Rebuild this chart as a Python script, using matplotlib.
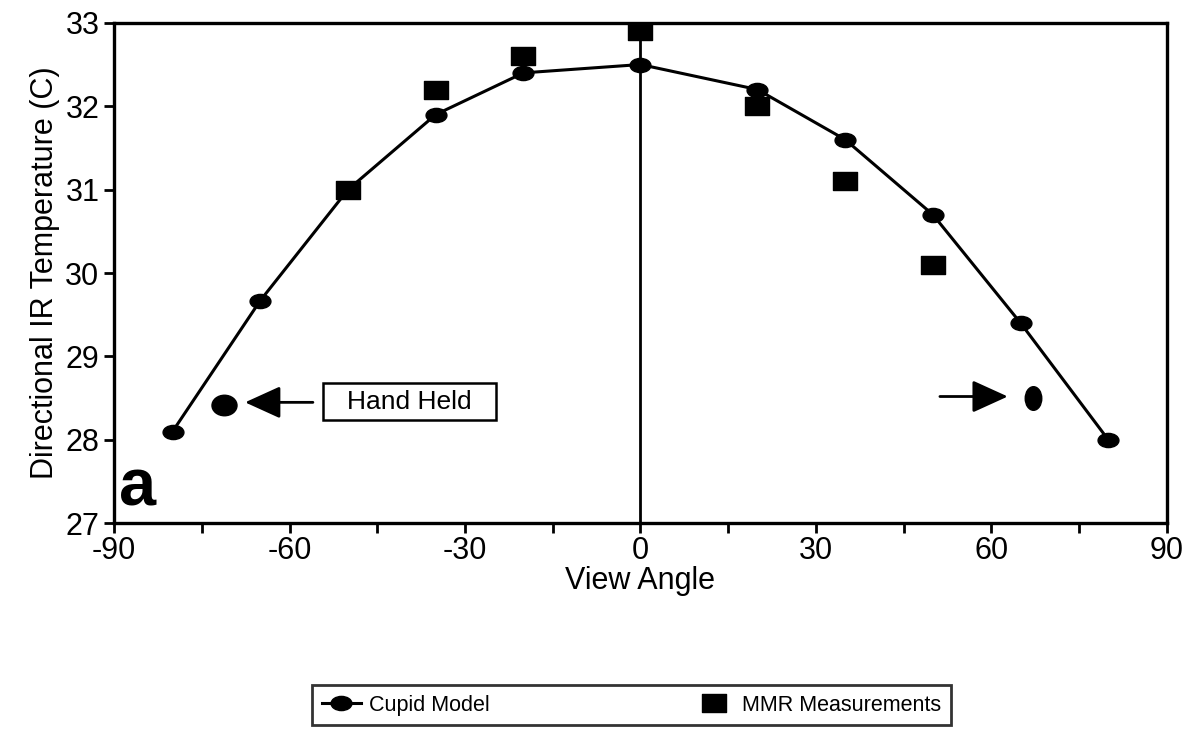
import matplotlib.pyplot as plt
import numpy as np
from matplotlib.path import Path
from matplotlib.patches import Rectangle
from matplotlib.transforms import Affine2D

plt.rcParams['font.family'] = ['Liberation Sans', 'DejaVu Sans']
plt.rcParams['axes.unicode_minus'] = False

# data
angle_model = [-80, -65, -50, -35, -20, 0, 20, 35, 50, 65, 80]
temp_model = [28.1, 29.67, 31.0, 31.9, 32.4, 32.5, 32.2, 31.6, 30.7, 29.4, 28.0]
angle_mmr = [-50, -35, -20, 0, 20, 35, 50]
temp_mmr = [31.0, 32.2, 32.6, 32.9, 32.0, 31.1, 30.1]
angle_hand = [-71.2, 67.1]
temp_hand = [28.42, 28.5]

# flattened markers like the scanned original
ellipse = Path.unit_circle().transformed(Affine2D().scale(1, 0.68))
round_dot = Path.unit_circle().transformed(Affine2D().scale(1, 0.82))
tall_ellipse = Path.unit_circle().transformed(Affine2D().scale(0.7, 1))
rect = Path([(-1, -0.75), (1, -0.75), (1, 0.75), (-1, 0.75), (-1, -0.75)],
            [Path.MOVETO, Path.LINETO, Path.LINETO, Path.LINETO, Path.CLOSEPOLY])

fig = plt.figure(figsize=(11.98, 7.36), dpi=100)
ax = fig.add_axes([0.0952, 0.289, 0.8788, 0.680])

ax.axvline(0, color='black', lw=2, zorder=1)
ax.plot(angle_model, temp_model, color='black', lw=2.2, marker=ellipse,
        markersize=15, label='Cupid Model', zorder=3)
ax.plot(angle_mmr, temp_mmr, ls='none', marker=rect, markersize=17,
        color='black', label='MMR Measurements', zorder=4)
ax.plot(angle_hand[:1], temp_hand[:1], ls='none', marker=round_dot,
        markersize=18, color='black')
ax.plot(angle_hand[1:], temp_hand[1:], ls='none', marker=tall_ellipse,
        markersize=17, color='black')

# "Hand Held" label and arrows
ax.add_patch(Rectangle((-54.3, 28.24), 29.6, 0.44, fc='white', ec='black',
                       lw=1.8, zorder=2))
ax.text(-39.5, 28.45, 'Hand Held', fontsize=19, ha='center', va='center',
        zorder=3)
arrow = dict(arrowstyle='-|>,head_length=1.1,head_width=0.5', color='black',
             lw=2, mutation_scale=20, shrinkA=0, shrinkB=0)
ax.annotate('', xy=(-67.6, 28.45), xytext=(-56, 28.45), arrowprops=arrow)
ax.annotate('', xy=(62.8, 28.52), xytext=(51.2, 28.52), arrowprops=arrow)

ax.text(-89.2, 27.05, 'a', fontsize=48, fontweight='bold', ha='left',
        va='bottom')

ax.set_xlim(-90, 90)
ax.set_ylim(27, 33)
ax.set_xticks(np.arange(-90, 91, 30))
ax.set_xticks(np.arange(-75, 90, 30), minor=True)
ax.set_yticks(np.arange(27, 34, 1))
ax.tick_params(axis='both', which='both', direction='out', width=2,
               labelsize=22)
ax.tick_params(axis='both', which='major', length=7)
ax.tick_params(axis='x', which='minor', length=7)
ax.tick_params(axis='x', pad=2)
for s in ax.spines.values():
    s.set_linewidth(2.4)

ax.set_xlabel('View Angle', fontsize=22, labelpad=0)
ax.set_ylabel('Directional IR Temperature (C)', fontsize=22, labelpad=4)

leg = fig.legend(loc='center', bbox_to_anchor=(0.527, 0.042), ncol=2,
                 fontsize=15.5, frameon=True, fancybox=False, edgecolor='black',
                 columnspacing=9.5, handlelength=1.8, handletextpad=0.4,
                 borderpad=0.45, borderaxespad=0)
leg.get_frame().set_linewidth(2)

fig.savefig('out.png', dpi=100)
